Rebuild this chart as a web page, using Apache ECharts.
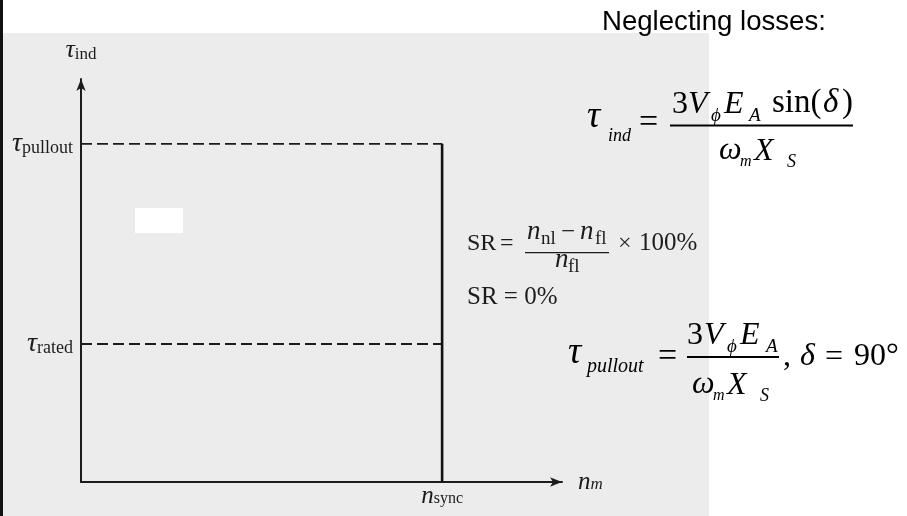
<!DOCTYPE html>
<html><head><meta charset="utf-8">
<script src="https://cdn.jsdelivr.net/npm/echarts@6/dist/echarts.min.js"></script>
<style>html,body{margin:0;padding:0;background:#fff}#c{width:907px;height:516px}</style>
</head><body><div id="c"></div>
<script>
// ---- data (normalised units) ----
const speedPoints = [0, 1.0];              // origin, n_sync
const syncSpeed = [1.0, 1.0];              // vertical characteristic at n_sync
const syncTorque = [0, 2.45];              // from 0 up to tau_pullout
const ratedTorque = [1.0, 1.0];            // tau_rated dashed level
const pulloutTorque = [2.45, 2.45];        // tau_pullout dashed level
const speedAxisMax = [1.332];
const torqueAxisMax = [2.92];
const torqueTickValues = [1.0, 2.45];
const torqueTickNames = ['rated', 'pullout'];
const speedTickValues = [1.0];
const speedTickNames = ['sync'];

const SERIF = '"Liberation Serif","DejaVu Serif","Times New Roman",serif';
const SANS = '"Liberation Sans",Arial,sans-serif';
const INK = '#1c1c1c';

function T(str, x, base, size, kind, color) {
  return {
    type: 'text', x: x, y: base - 0.34 * size, z: 50, silent: true,
    style: {
      text: str, fontSize: size,
      fontFamily: kind === 's' ? SANS : SERIF,
      fontStyle: kind === 'i' ? 'italic' : 'normal',
      fill: color || '#000', align: 'left', verticalAlign: 'middle'
    }
  };
}
function BAR(x1, x2, y, w, color) {
  return { type: 'line', z: 50, silent: true, shape: { x1: x1, y1: y, x2: x2, y2: y },
           style: { stroke: color || '#000', lineWidth: w } };
}

const graphics = [
  { type: 'rect', z: -100, silent: true, shape: { x: 3, y: 33, width: 706, height: 483 }, style: { fill: '#ececec' } },
  { type: 'rect', z: -99, silent: true, shape: { x: 135, y: 208, width: 48, height: 25 }, style: { fill: '#ffffff' } },
  { type: 'rect', z: -98, silent: true, shape: { x: 0, y: 0, width: 3, height: 516 }, style: { fill: '#111' } },

  T('Neglecting losses:', 602, 32, 27.6, 's'),

  // tau_ind = 3 V_phi E_A sin(delta) / (omega_m X_S)
  T('τ', 587, 130, 37, 'i'),
  T('ind', 608, 142, 18, 'i'),
  T('=', 639, 135, 34, 'r'),
  BAR(670, 853, 125.5, 1.8),
  T('3', 672, 115, 32, 'r'),
  T('V', 688, 115, 32, 'i'),
  T('ϕ', 711, 122, 19, 'i'),
  T('E', 724, 115, 32, 'i'),
  T('A', 749, 122, 19, 'i'),
  T('sin(', 772, 115, 33, 'r'),
  T('δ', 823, 115, 33, 'i'),
  T(')', 842, 115, 33, 'r'),
  T('ω', 719, 161, 32, 'i'),
  T('m', 740, 167, 16, 'i'),
  T('X', 754, 162, 32, 'i'),
  T('S', 787, 168, 18, 'i'),

  // SR formula (scanned text)
  T('SR', 467, 252, 24, 'r', INK),
  T('=', 500, 252, 24, 'r', INK),
  BAR(525, 609, 252.7, 1.2, INK),
  T('n', 527, 241, 27, 'i', INK),
  T('nl', 541, 245, 19, 'r', INK),
  T('−', 561, 241, 25, 'r', INK),
  T('n', 580, 241, 27, 'i', INK),
  T('fl', 595, 245, 19, 'r', INK),
  T('n', 555, 269, 27, 'i', INK),
  T('fl', 568, 273, 19, 'r', INK),
  T('×', 618, 252, 24, 'r', INK),
  T('100%', 639, 252, 25, 'r', INK),
  T('SR = 0%', 467, 306, 25, 'r', INK),

  // tau_pullout = 3 V_phi E_A / (omega_m X_S), delta = 90°
  T('τ', 568, 366, 37, 'i'),
  T('pullout', 587, 374, 20, 'i'),
  T('=', 658, 369, 34, 'r'),
  BAR(687, 779, 357, 1.8),
  T('3', 687, 346, 32, 'r'),
  T('V', 704, 346, 32, 'i'),
  T('ϕ', 727, 353, 19, 'i'),
  T('E', 740, 346, 32, 'i'),
  T('A', 766, 353, 19, 'i'),
  T('ω', 692, 395, 32, 'i'),
  T('m', 713, 401, 16, 'i'),
  T('X', 727, 396, 32, 'i'),
  T('S', 760, 402, 18, 'i'),
  T(',', 783, 367, 32, 'r'),
  T('δ', 800, 367, 32, 'i'),
  T('=', 825, 368, 32, 'r'),
  T('90°', 854, 367, 32, 'r')
];

function pick(values, names, v) {
  for (let i = 0; i < values.length; i++) if (Math.abs(values[i] - v) < 1e-6) return names[i];
  return null;
}

const chart = echarts.init(document.getElementById('c'), null, { renderer: 'canvas' });
chart.setOption({
  backgroundColor: '#ffffff',
  animation: false,
  grid: { left: 81, top: 79, width: 481, height: 403, containLabel: false, outerBoundsMode: 'none' },
  xAxis: {
    type: 'value', min: 0, max: speedAxisMax[0],
    axisLine: { show: true, onZero: false, symbol: ['none', 'arrow'], symbolSize: [7, 12],
                lineStyle: { color: INK, width: 2 } },
    axisTick: { show: false }, splitLine: { show: false },
    axisLabel: {
      customValues: speedTickValues, margin: 3, color: INK,
      formatter: v => { const n = pick(speedTickValues, speedTickNames, v); return n ? '{t|n}{s|' + n + '}' : ''; },
      rich: {
        t: { fontFamily: SERIF, fontStyle: 'italic', fontSize: 25, lineHeight: 22, verticalAlign: 'middle', color: INK },
        s: { fontFamily: SERIF, fontSize: 16, lineHeight: 12, verticalAlign: 'bottom', color: INK }
      }
    },
    name: '{t|n}{s|m}', nameLocation: 'end', nameGap: 16,
    nameTextStyle: {
      rich: {
        t: { fontFamily: SERIF, fontStyle: 'italic', fontSize: 25, lineHeight: 22, verticalAlign: 'middle', color: INK },
        s: { fontFamily: SERIF, fontStyle: 'italic', fontSize: 17, lineHeight: 12, verticalAlign: 'bottom', color: INK }
      }
    }
  },
  yAxis: {
    type: 'value', min: 0, max: torqueAxisMax[0],
    axisLine: { show: true, onZero: false, symbol: ['none', 'arrow'], symbolSize: [7, 12],
                lineStyle: { color: INK, width: 2 } },
    axisTick: { show: false }, splitLine: { show: false },
    axisLabel: {
      customValues: torqueTickValues, margin: 8, color: INK,
      formatter: v => { const n = pick(torqueTickValues, torqueTickNames, v); return n ? '{t|τ}{s|' + n + '}' : ''; },
      rich: {
        t: { fontFamily: SERIF, fontStyle: 'italic', fontSize: 28, lineHeight: 26, verticalAlign: 'middle', color: INK },
        s: { fontFamily: SERIF, fontSize: 18, lineHeight: 18, verticalAlign: 'bottom', color: INK }
      }
    },
    name: '{t|τ}{s|ind}', nameLocation: 'end', nameGap: 16,
    nameTextStyle: {
      rich: {
        t: { fontFamily: SERIF, fontStyle: 'italic', fontSize: 26, lineHeight: 26, verticalAlign: 'middle', color: INK },
        s: { fontFamily: SERIF, fontSize: 17, lineHeight: 18, verticalAlign: 'bottom', color: INK }
      }
    }
  },
  series: [
    { name: 'pullout', type: 'line', symbol: 'none', silent: true,
      data: speedPoints.map((x, i) => [x, pulloutTorque[i]]),
      lineStyle: { color: INK, width: 1.8, type: [11, 5] } },
    { name: 'rated', type: 'line', symbol: 'none', silent: true,
      data: speedPoints.map((x, i) => [x, ratedTorque[i]]),
      lineStyle: { color: INK, width: 1.8, type: [11, 5] } },
    { name: 'sync', type: 'line', symbol: 'none', silent: true,
      data: syncSpeed.map((x, i) => [x, syncTorque[i]]),
      lineStyle: { color: '#111', width: 2.6 } }
  ],
  graphic: graphics
});
</script></body></html>
